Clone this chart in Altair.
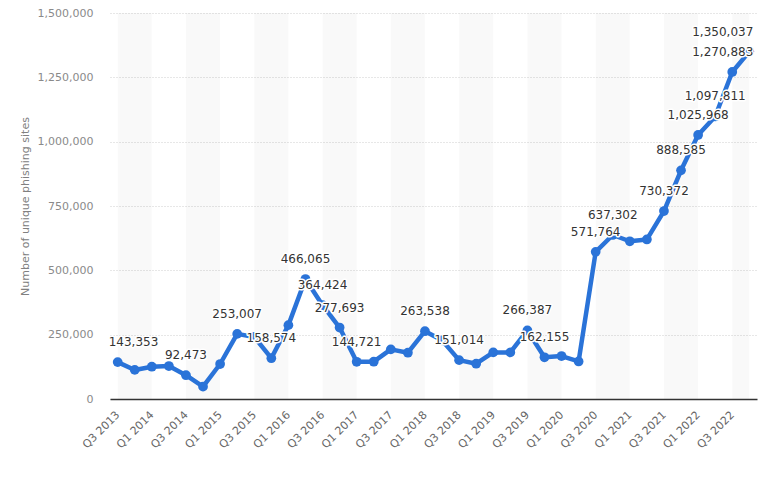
import altair as alt
import pandas as pd

quarters = [
    "Q3 2013", "Q4 2013", "Q1 2014", "Q2 2014", "Q3 2014", "Q4 2014",
    "Q1 2015", "Q2 2015", "Q3 2015", "Q4 2015", "Q1 2016", "Q2 2016",
    "Q3 2016", "Q4 2016", "Q1 2017", "Q2 2017", "Q3 2017", "Q4 2017",
    "Q1 2018", "Q2 2018", "Q3 2018", "Q4 2018", "Q1 2019", "Q2 2019",
    "Q3 2019", "Q4 2019", "Q1 2020", "Q2 2020", "Q3 2020", "Q4 2020",
    "Q1 2021", "Q2 2021", "Q3 2021", "Q4 2021", "Q1 2022", "Q2 2022",
    "Q3 2022", "Q4 2022",
]
sites = [
    143353, 113000, 125500, 128000, 92473, 48000,
    136000, 253007, 241000, 158574, 287000, 466065,
    364424, 277693, 144721, 145000, 193000, 180000,
    263538, 228000, 151014, 137000, 181000, 181000,
    266387, 162155, 167000, 146000, 571764, 637302,
    613000, 620000, 730372, 888585, 1025968, 1097811,
    1270883, 1350037,
]
labeled_center = [4, 7, 9, 11, 12, 13, 14, 18, 20, 24, 25, 28, 29, 32, 33, 34, 35]
labeled_left = [0]
labeled_right = [36, 37]
tick_labels = quarters[::2]
y_ticks = [0, 250000, 500000, 750000, 1000000, 1250000, 1500000]
y_title = "Number of unique phishing sites"

n = len(quarters)
df = pd.DataFrame({"quarter": quarters, "sites": sites, "idx": list(range(n))})
starts = quarters[0::4]
bands = pd.DataFrame({
    "quarter": starts,
    "end": [quarters[min(i + 2, n - 1)] for i in range(0, n, 4)],
    "sites": [y_ticks[0]] * len(starts),
    "hi": [y_ticks[-1]] * len(starts),
})

FONT = "DejaVu Sans"
BLUE = "#2a73d8"

x_scale = alt.Scale(type="point", padding=0.45, domain=quarters)
x_axis = alt.Axis(
    values=tick_labels, labelAngle=-45, labelAlign="right", labelBaseline="middle",
    labelPadding=14, ticks=False, grid=False, domain=True, domainColor="#333333",
    domainWidth=1.5, labelColor="#666666", labelFont=FONT, labelFontSize=11, title=None,
)
y_scale = alt.Scale(domain=[0, 1500000], nice=False, zero=True)
y_axis = alt.Axis(
    values=y_ticks, format=",.0f", ticks=False, domain=False, grid=True,
    gridColor="#cfcfcf", gridDash=[1, 2], gridWidth=1,
    labelColor="#8a8a8a", labelFont=FONT, labelFontSize=11, labelPadding=17,
    title=y_title, titleColor="#808080", titleFont=FONT, titleFontSize=11,
    titleFontWeight="normal", titlePadding=7,
)

X = alt.X("quarter:N", scale=x_scale, axis=x_axis, sort=quarters)
Y = alt.Y("sites:Q", scale=y_scale, axis=y_axis)

band_layer = alt.Chart(bands).mark_rect(color="#000000", opacity=0.025).encode(
    x=X, x2="end:N", y=Y, y2="hi:Q",
)

line = alt.Chart(df).mark_line(color=BLUE, strokeWidth=4.5, strokeJoin="round").encode(x=X, y=Y)
pts = alt.Chart(df).mark_circle(color=BLUE, size=95, opacity=1).encode(x=X, y=Y)


def labels(idx_list, align, dx, fixed_x=None):
    out = []
    for halo in (True, False):
        kw = dict(align=align, baseline="middle", dx=dx, dy=-20, font=FONT, fontSize=12,
                  color="#333333")
        if halo:
            kw.update(stroke="white", strokeWidth=3, strokeJoin="round", color="white")
        enc = dict(y=Y, text=alt.Text("sites:Q", format=","))
        if fixed_x is None:
            enc["x"] = X
        else:
            enc["x"] = alt.X(datum=fixed_x, type="nominal", scale=x_scale, axis=x_axis)
        out.append(
            alt.Chart(df).transform_filter(
                alt.FieldOneOfPredicate(field="idx", oneOf=idx_list)
            ).mark_text(**kw).encode(**enc)
        )
    return out


text_layers = (
    labels(labeled_center, "center", 0)
    + labels(labeled_left, "left", -9)
    + labels(labeled_right, "right", 4, fixed_x=quarters[-1])
)

chart = alt.layer(band_layer, line, pts, *text_layers).properties(
    width=647, height=386,
    autosize=alt.AutoSizeParams(type="none"),
    padding={"left": 110, "top": 13, "right": 13, "bottom": 82},
    background="white",
).configure_view(stroke=None)

chart.save("out.html", embed_options={"renderer": "svg", "actions": False})
